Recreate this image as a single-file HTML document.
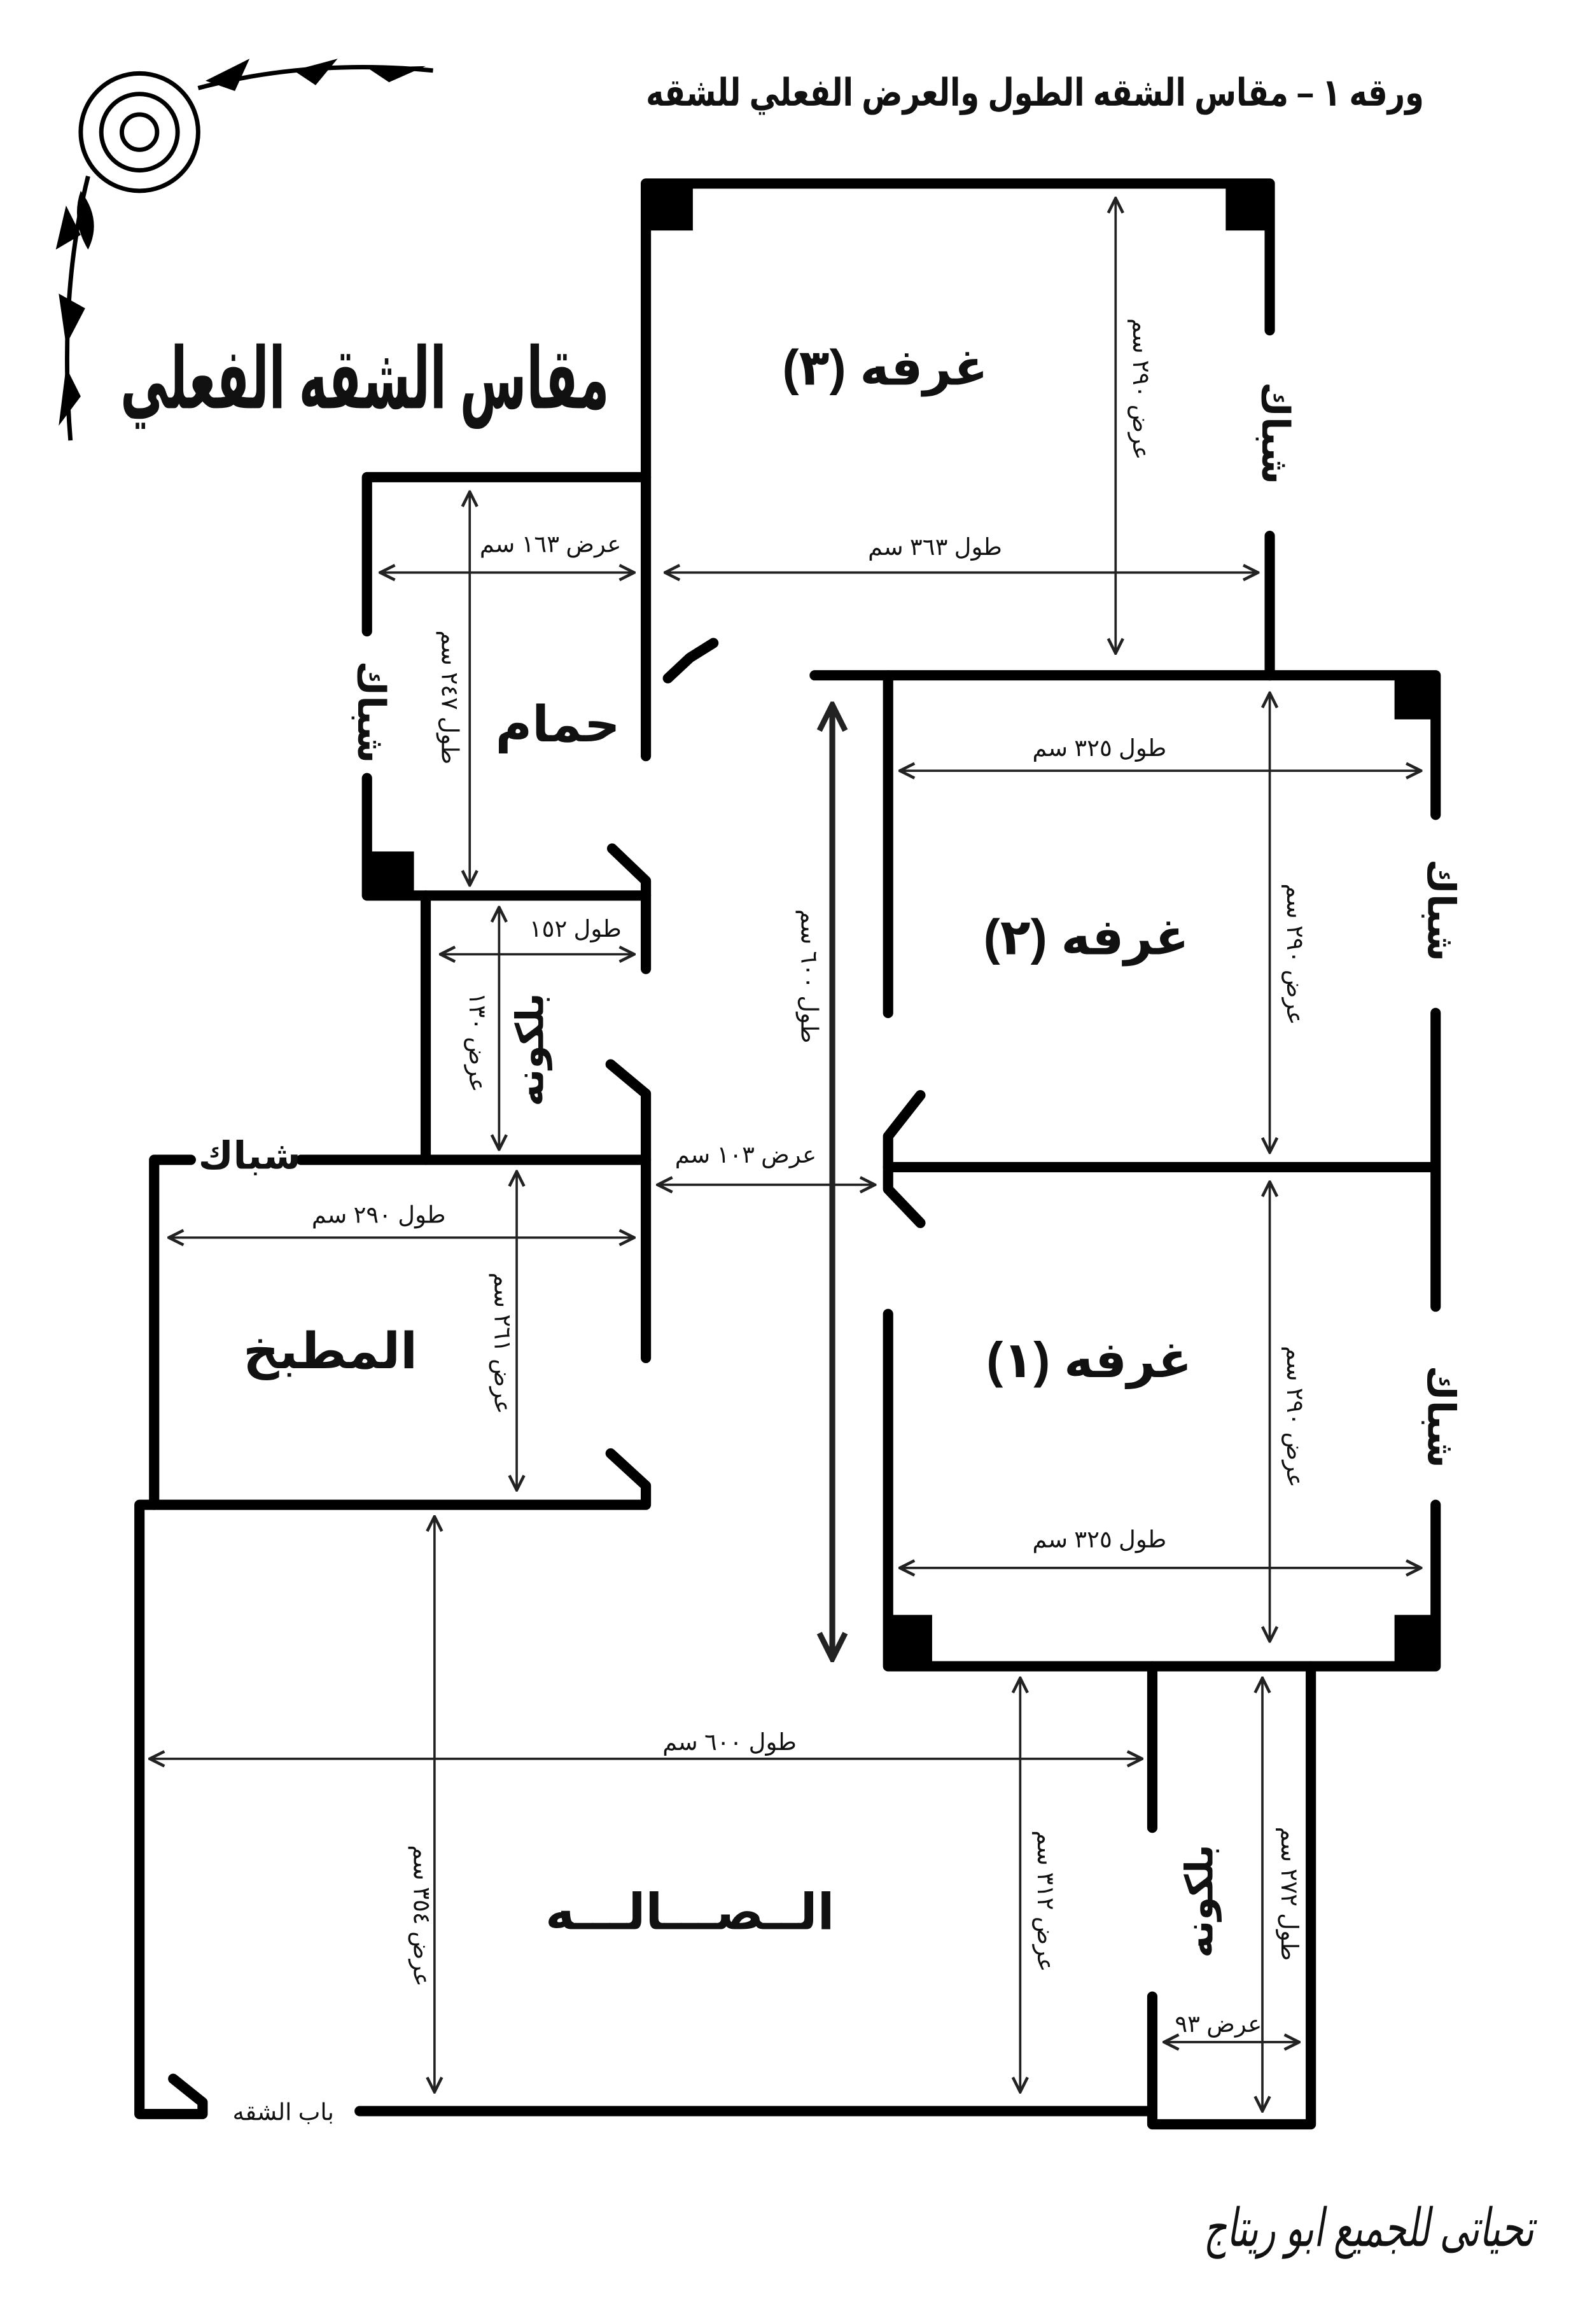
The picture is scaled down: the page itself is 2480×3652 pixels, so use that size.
<!DOCTYPE html>
<html><head><meta charset="utf-8"><style>
html,body{margin:0;padding:0;background:#fff}
svg{display:block}
text{font-family:"Liberation Sans","Noto Sans CJK SC","DejaVu Sans",sans-serif;fill:#111}
</style></head><body>
<svg width="2480" height="3652" viewBox="0 0 1075 1583" xmlns="http://www.w3.org/2000/svg">
<defs>
<marker id="a" viewBox="0 0 12 12" refX="11" refY="6" markerWidth="12" markerHeight="12" markerUnits="userSpaceOnUse" orient="auto-start-reverse">
<path d="M1,1 L11,6 L1,11" fill="none" stroke="#222" stroke-width="2"/>
</marker>
<marker id="b" viewBox="0 0 20 20" refX="18" refY="10" markerWidth="22" markerHeight="22" markerUnits="userSpaceOnUse" orient="auto-start-reverse">
<path d="M2,2 L18,10 L2,18" fill="none" stroke="#222" stroke-width="3.5"/>
</marker>
</defs>
<rect width="1075" height="1583" fill="#fff"/>

<g stroke="#000" stroke-width="7" fill="none" stroke-linecap="round" stroke-linejoin="round">
<polyline points="440,515 440,125 865,125 865,225"/>
<line x1="865" y1="365" x2="865" y2="460"/>
<polyline points="455,462 470,448 486,438"/>
<polyline points="440,325 250,325 250,430"/>
<polyline points="250,530 250,610 440,610 440,600 417,578"/>
<line x1="290" y1="610" x2="290" y2="790"/>
<line x1="440" y1="610" x2="440" y2="660"/>
<polyline points="416,725 440,745 440,925"/>
<polyline points="130,790 105,790 105,1025"/>
<line x1="205" y1="790" x2="440" y2="790"/>
<polyline points="416,990 440,1012 440,1025 95,1025 95,1440 138,1440 138,1432 118,1416"/>
<line x1="245" y1="1438" x2="785" y2="1438"/>
<polyline points="785,1245 785,1135"/>
<polyline points="785,1360 785,1447 893,1447 893,1135"/>
<polyline points="555,460 978,460 978,555"/>
<line x1="605" y1="460" x2="605" y2="690"/>
<line x1="978" y1="690" x2="978" y2="890"/>
<line x1="605" y1="795" x2="975" y2="795"/>
<polyline points="627,746 605,774 605,810 627,833"/>
<polyline points="605,895 605,1135 978,1135 978,1025"/>
</g>
<g fill="#000">
<rect x="440" y="125" width="32" height="32"/>
<rect x="835" y="125" width="32" height="32"/>
<rect x="950" y="460" width="30" height="30"/>
<rect x="250" y="580" width="32" height="32"/>
<rect x="605" y="1100" width="30" height="35"/>
<rect x="950" y="1100" width="30" height="35"/>
</g>

<g stroke="#222" stroke-width="1.6" marker-start="url(#a)" marker-end="url(#a)">
<line x1="760" y1="135" x2="760" y2="445"/>
<line x1="453" y1="390" x2="857" y2="390"/>
<line x1="259" y1="390" x2="432" y2="390"/>
<line x1="320" y1="335" x2="320" y2="603"/>
<line x1="613" y1="525" x2="968" y2="525"/>
<line x1="865" y1="472" x2="865" y2="785"/>
<line x1="300" y1="650" x2="432" y2="650"/>
<line x1="340" y1="618" x2="340" y2="783"/>
<line x1="448" y1="807" x2="596" y2="807"/>
<line x1="115" y1="843" x2="432" y2="843"/>
<line x1="352" y1="798" x2="352" y2="1015"/>
<line x1="865" y1="805" x2="865" y2="1118"/>
<line x1="613" y1="1068" x2="968" y2="1068"/>
<line x1="102" y1="1198" x2="778" y2="1198"/>
<line x1="296" y1="1033" x2="296" y2="1425"/>
<line x1="695" y1="1143" x2="695" y2="1425"/>
<line x1="860" y1="1143" x2="860" y2="1438"/>
<line x1="793" y1="1391" x2="885" y2="1391"/>
</g>
<line x1="567" y1="480" x2="567" y2="1130" stroke="#222" stroke-width="4" marker-start="url(#b)" marker-end="url(#b)"/>

<g font-weight="bold" font-size="34" text-anchor="middle">
<text x="603" y="262">غرفه (٣)</text>
<text x="740" y="650">غرفه (٢)</text>
<text x="742" y="938">غرفه (١)</text>
<text x="380" y="505">حمام</text>
<text x="225" y="932">المطبخ</text>
<text x="470" y="1314">الــصـــالـــه</text>
</g>
<g font-weight="bold" font-size="26" text-anchor="middle">
<text transform="translate(370,715) rotate(-90)" x="0" y="0">بلكونه</text>
<text transform="translate(826,1295) rotate(-90)" x="0" y="0">بلكونه</text>
<text transform="translate(860,295) rotate(90)">شباك</text>
<text transform="translate(973,620) rotate(90)">شباك</text>
<text transform="translate(973,965) rotate(90)">شباك</text>
<text transform="translate(244,485) rotate(90)">شباك</text>
<text x="170" y="796">شباك</text>
</g>

<g font-size="16" text-anchor="middle">
<text x="637" y="378">طول ٣٦٣ سم</text>
<text x="375" y="376">عرض ١٦٣ سم</text>
<text x="749" y="515">طول ٣٢٥ سم</text>
<text x="392" y="638">طول ١٥٢</text>
<text x="508" y="792">عرض ١٠٣ سم</text>
<text x="258" y="833">طول ٢٩٠ سم</text>
<text x="749" y="1054">طول ٣٢٥ سم</text>
<text x="497" y="1192">طول ٦٠٠ سم</text>
<text x="830" y="1384">عرض ٩٣</text>
<text x="193" y="1444">باب الشقه</text>
<text transform="translate(772,265) rotate(90)">عرض ٢٩٠ سم</text>
<text transform="translate(301,475) rotate(90)">طول ٢٤٧ سم</text>
<text transform="translate(320,710) rotate(90)">عرض ١٣٠</text>
<text transform="translate(546,665) rotate(90)">طول ٦٠٠ سم</text>
<text transform="translate(877,650) rotate(90)">عرض ٢٩٠ سم</text>
<text transform="translate(337,915) rotate(90)">عرض ٢٦١ سم</text>
<text transform="translate(877,965) rotate(90)">عرض ٢٩٠ سم</text>
<text transform="translate(282,1305) rotate(90)">عرض ٣٥٤ سم</text>
<text transform="translate(707,1295) rotate(90)">عرض ٣١٢ سم</text>
<text transform="translate(873,1290) rotate(90)">طول ٢٧٢ سم</text>
</g>

<text x="440" y="72" font-size="26" font-weight="bold" textLength="530" lengthAdjust="spacingAndGlyphs">ورقه ١ – مقاس الشقه الطول والعرض الفعلي للشقه</text>
<text x="82" y="278" font-size="58" font-weight="bold" textLength="333" lengthAdjust="spacingAndGlyphs">مقاس الشقه الفعلي</text>
<text x="820" y="1530" font-size="36" font-style="italic" textLength="225" lengthAdjust="spacingAndGlyphs">تحياتى للجميع ابو ريتاج</text>

<g stroke="#000" stroke-width="3" fill="none">
<circle cx="95" cy="90" r="40"/>
<circle cx="95" cy="90" r="26"/>
<circle cx="95" cy="90" r="12"/>
<path d="M135,60 Q210,40 295,48"/>
<path d="M60,120 Q40,200 48,300"/>
</g>
<g fill="#000">
<path d="M140,55 L170,40 L160,62 Z"/><path d="M200,48 L230,40 L215,58 Z"/><path d="M250,46 L290,45 L265,56Z"/>
<path d="M45,140 L38,170 L55,160Z"/><path d="M40,200 L45,235 L58,210Z"/><path d="M45,250 L40,290 L55,270Z"/>
<path d="M55,130 Q70,150 60,170 Q48,150 55,130Z"/>
</g>
</svg>
</body></html>
